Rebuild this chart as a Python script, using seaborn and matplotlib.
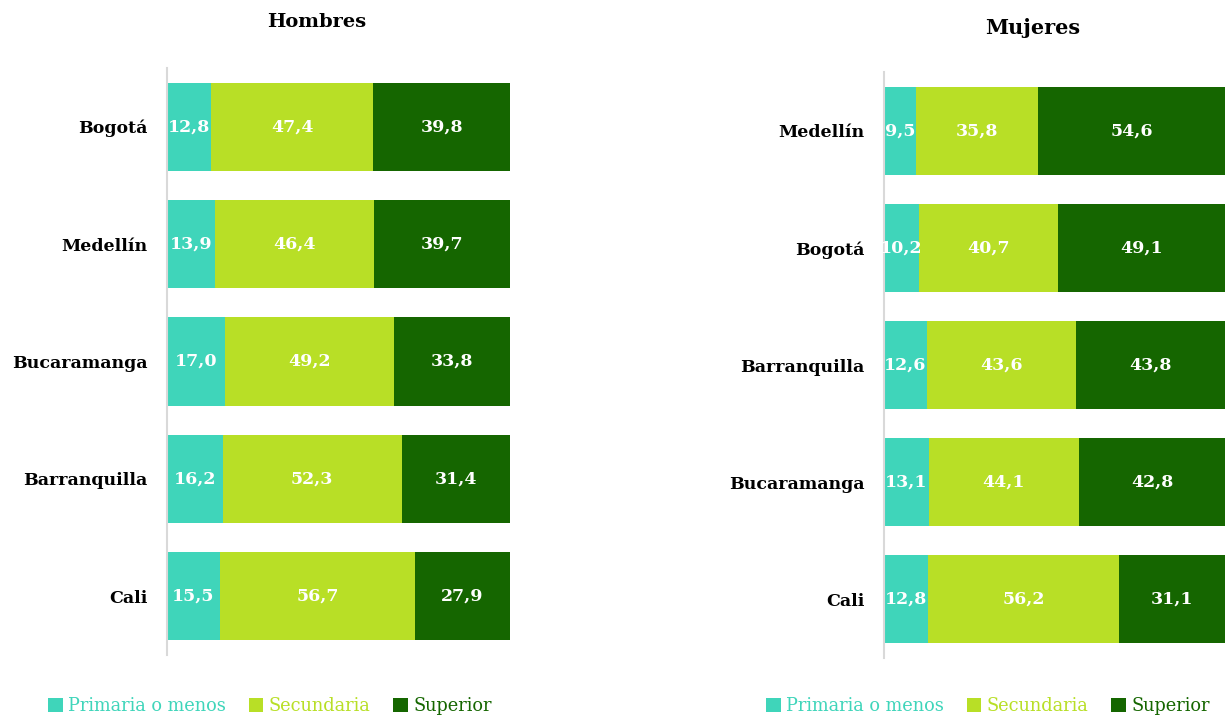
import matplotlib
matplotlib.use("Agg")
import matplotlib.pyplot as plt
import seaborn as sns
import pandas as pd
import numpy as np
from matplotlib.patches import Patch

sns.set_theme(style="white")
plt.rcParams['font.family'] = ['DejaVu Serif']
plt.rcParams['text.color'] = 'black'
plt.rcParams['ytick.color'] = 'black'

cities_h = ["Bogotá", "Medellín", "Bucaramanga", "Barranquilla", "Cali"]
prim_h = [12.8, 13.9, 17.0, 16.2, 15.5]
sec_h = [47.4, 46.4, 49.2, 52.3, 56.7]
sup_h = [39.8, 39.7, 33.8, 31.4, 27.9]

cities_m = ["Medellín", "Bogotá", "Barranquilla", "Bucaramanga", "Cali"]
prim_m = [9.5, 10.2, 12.6, 13.1, 12.8]
sec_m = [35.8, 40.7, 43.6, 44.1, 56.2]
sup_m = [54.6, 49.1, 43.8, 42.8, 31.1]

series = ["Primaria o menos", "Secundaria", "Superior"]
colors = ["#3FD5BA", "#B8DF26", "#156600"]

W, H = 1225, 719
fig = plt.figure(figsize=(W / 100, H / 100), dpi=100)

axL = fig.add_axes([167 / W, 1 - 655 / H, 343 / W, (655 - 68) / H])
axR = fig.add_axes([884 / W, 1 - 658 / H, 341 / W, (658 - 72) / H])


def draw(ax, cities, vals, title, title_x, title_y, title_size):
    cum = np.cumsum(np.array(vals), axis=0)
    for i in [2, 1, 0]:
        d = pd.DataFrame({"city": cities, "v": cum[i]})
        sns.barplot(data=d, y="city", x="v", orient="h", color=colors[i],
                    width=0.75, ax=ax, saturation=1, linewidth=0, order=cities)
    for i in range(3):
        for j, c in enumerate(cities):
            left = cum[i][j] - vals[i][j]
            ax.text(left + vals[i][j] / 2, j, f"{vals[i][j]:.1f}".replace(".", ","),
                    ha="center", va="center", color="white", fontweight="bold",
                    fontsize=12.5)
    ax.set_xlim(0, 100)
    ax.set_ylim(4.5, -0.5)
    ax.set_xlabel("")
    ax.set_ylabel("")
    ax.set_xticks([])
    ax.tick_params(axis="y", length=0, pad=14, colors="black")
    for lab in ax.get_yticklabels():
        lab.set_fontweight("bold")
        lab.set_fontsize(12.5)
    for s in ["top", "right", "bottom"]:
        ax.spines[s].set_visible(False)
    ax.spines["left"].set_color("#D9D9D9")
    ax.spines["left"].set_linewidth(1.5)
    fig.text(title_x, title_y, title, ha="center", va="center",
             fontweight="bold", fontsize=title_size, color="black")


draw(axL, cities_h, [prim_h, sec_h, sup_h], "Hombres", 317 / W, 1 - 22 / H, 14)
draw(axR, cities_m, [prim_m, sec_m, sup_m], "Mujeres", 1033 / W, 1 - 28 / H, 15)

handles = [Patch(facecolor=c, edgecolor="none") for c in colors]
for xc in [270 / W, 988 / W]:
    leg = fig.legend(handles, series, loc="center", bbox_to_anchor=(xc, 1 - 706 / H),
                     ncol=3, frameon=False, fontsize=12.8, handlelength=0.8,
                     handleheight=0.8, handletextpad=0.3, columnspacing=1.3)
    for t, c in zip(leg.get_texts(), colors):
        t.set_color(c)

fig.savefig("out.png", dpi=100)
